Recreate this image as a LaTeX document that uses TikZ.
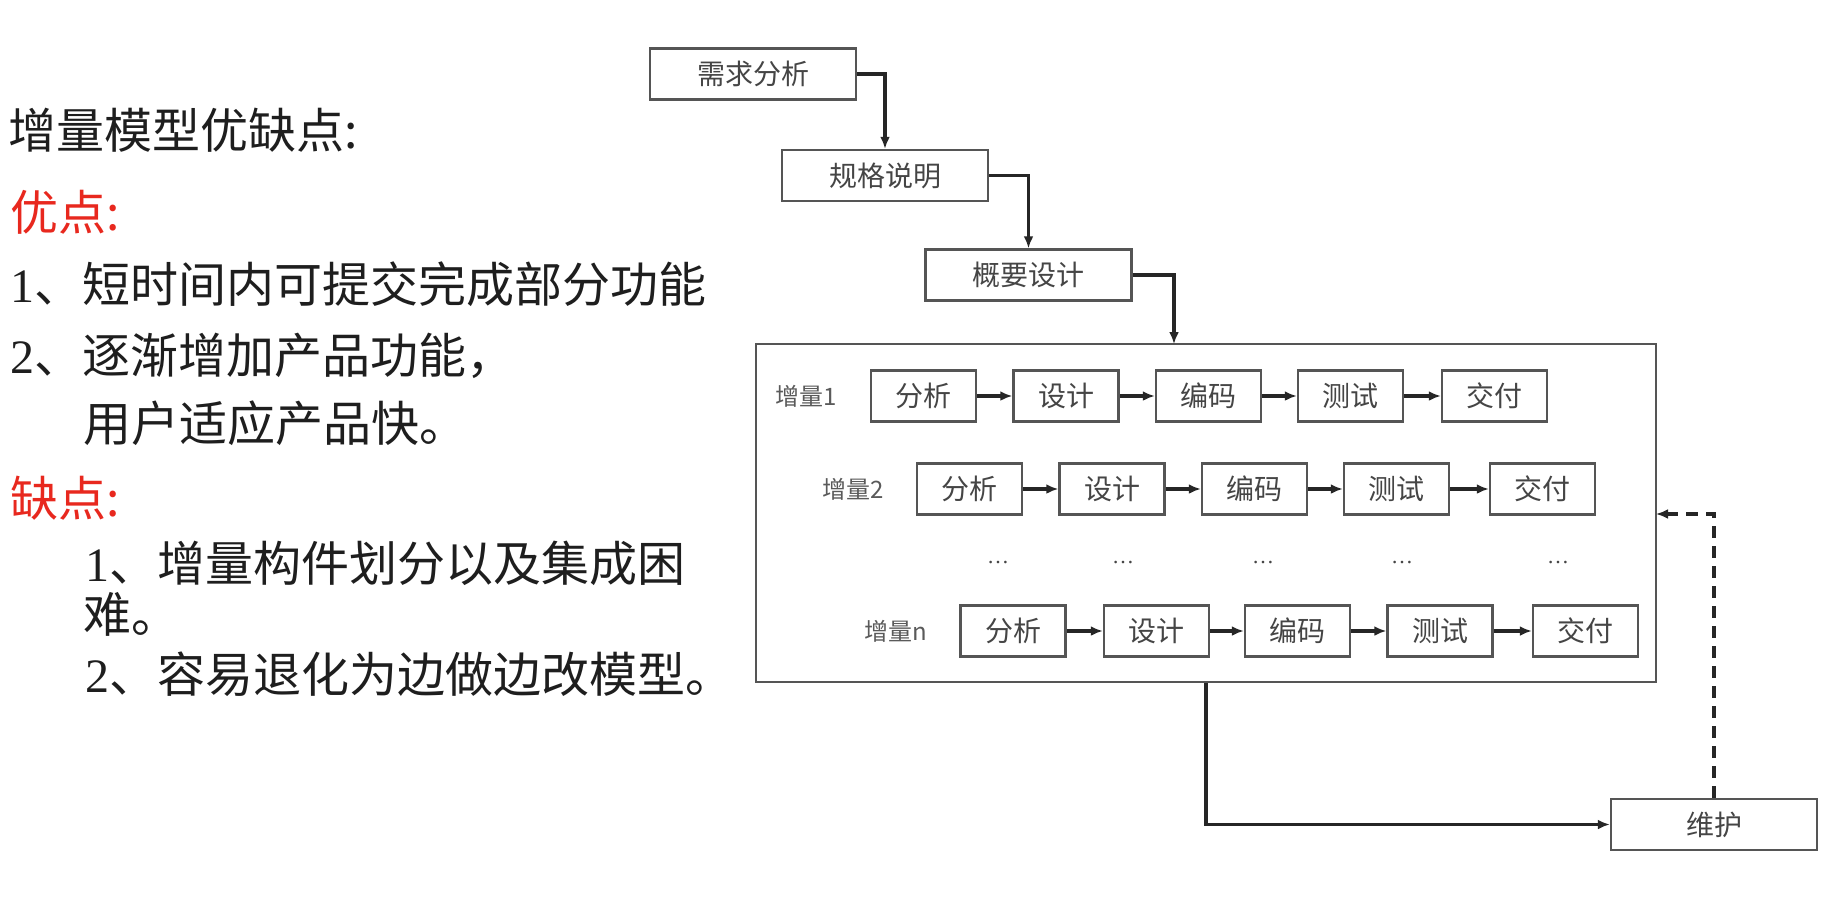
\documentclass[tikz,border=0pt]{standalone}
\usepackage{fontspec}
\setmainfont{Noto Sans CJK SC}
\newfontfamily\tnr{Liberation Serif}
\usetikzlibrary{arrows.meta}
\definecolor{txt}{HTML}{1E1E1E}
\definecolor{redc}{HTML}{E8281E}
\definecolor{boxc}{HTML}{555555}
\definecolor{boxt}{HTML}{454545}
\definecolor{labt}{HTML}{5A5A5A}
\begin{document}
\begin{tikzpicture}[x=1pt,y=-1pt,
  lt/.style={anchor=west, text=txt, inner sep=0pt, font=\fontsize{48}{52}\selectfont},
  rt/.style={lt, text=redc},
  topbox/.style={draw=boxc, line width=2.5pt, minimum width=206pt, minimum height=51pt, inner sep=0pt, text=boxt, font=\fontsize{28}{30}\selectfont},
  sbox/.style={draw=boxc, line width=2.5pt, minimum width=105pt, minimum height=51pt, inner sep=0pt, text=boxt, font=\fontsize{28}{30}\selectfont},
  lab/.style={anchor=east, text=labt, inner sep=0pt, font=\fontsize{24}{26}\selectfont},
  dots/.style={text=boxt, inner sep=0pt, font=\tnr\fontsize{22}{24}\selectfont},
  arr/.style={-{Latex[length=12pt,width=10pt]}, line width=3.4pt, draw=black!85},
  darr/.style={arr, dash pattern=on 12pt off 8pt}
]
\useasboundingbox[fill=white] (0,0) rectangle (1844,919);

% left text
\node[lt] (t0) at (8,130) {增量模型优缺点:};
\node[rt] (t1) at (10,212) {优点:};
\node[lt] (t2) at (10,284) {{\tnr 1}、短时间内可提交完成部分功能};
\node[lt] (t3) at (10,356) {{\tnr 2}、逐渐增加产品功能，};
\node[lt] (t4) at (83,423) {用户适应产品快。};
\node[rt] (t5) at (10,498) {缺点:};
\node[lt] (t6) at (85,563) {{\tnr 1}、增量构件划分以及集成困};
\node[lt] (t7) at (83,614) {难。};
\node[lt] (t8) at (85,674) {{\tnr 2}、容易退化为边做边改模型。};

% top boxes
\node[topbox] (a) at (753,74) {需求分析};
\node[topbox] (b) at (885,175.5) {规格说明};
\node[topbox] (c) at (1028.5,275) {概要设计};

% big box
\node[draw=boxc, line width=2.5pt, minimum width=900pt, minimum height=338pt, inner sep=0pt] (big) at (1206,513) {};
\coordinate (in3) at (1174,344);
\coordinate (fb) at (1656,514);

% row 1
\node[sbox] (r1a) at (923.5,396) {分析};
\node[sbox] (r1b) at (1066,396) {设计};
\node[sbox] (r1c) at (1208.5,396) {编码};
\node[sbox] (r1d) at (1350.5,396) {测试};
\node[sbox] (r1e) at (1494.5,396) {交付};
\node[lab] (l1) at ([xshift=-33pt]r1a.west) {增量1};

% row 2
\node[sbox] (r2a) at (969.5,489) {分析};
\node[sbox] (r2b) at (1112,489) {设计};
\node[sbox] (r2c) at (1254.5,489) {编码};
\node[sbox] (r2d) at (1396.5,489) {测试};
\node[sbox] (r2e) at (1542.5,489) {交付};
\node[lab] (l2) at ([xshift=-32pt]r2a.west) {增量2};

% dots
\node[dots] (d1) at (998,563) {…};
\node[dots] (d2) at (1123,563) {…};
\node[dots] (d3) at (1263,563) {…};
\node[dots] (d4) at (1402,563) {…};
\node[dots] (d5) at (1558,563) {…};

% row n
\node[sbox] (rna) at (1013,631) {分析};
\node[sbox] (rnb) at (1156.5,631) {设计};
\node[sbox] (rnc) at (1297.5,631) {编码};
\node[sbox] (rnd) at (1440,631) {测试};
\node[sbox] (rne) at (1585.5,631) {交付};
\node[lab] (ln) at ([xshift=-32pt]rna.west) {增量n};

% maintenance
\node[topbox] (w) at (1714,824.5) {维护};

% connectors
\draw[arr] (a.east) -| (b.north);
\draw[arr] (b.east) -| (c.north);
\draw[arr] (c.east) -| (in3);
\foreach \r in {r1,r2,rn}{
  \draw[arr] (\r a) -- (\r b);
  \draw[arr] (\r b) -- (\r c);
  \draw[arr] (\r c) -- (\r d);
  \draw[arr] (\r d) -- (\r e);
}
\draw[arr] (big.south) |- (w.west);
\draw[darr] (w.north) |- (fb);
\end{tikzpicture}
\end{document}
